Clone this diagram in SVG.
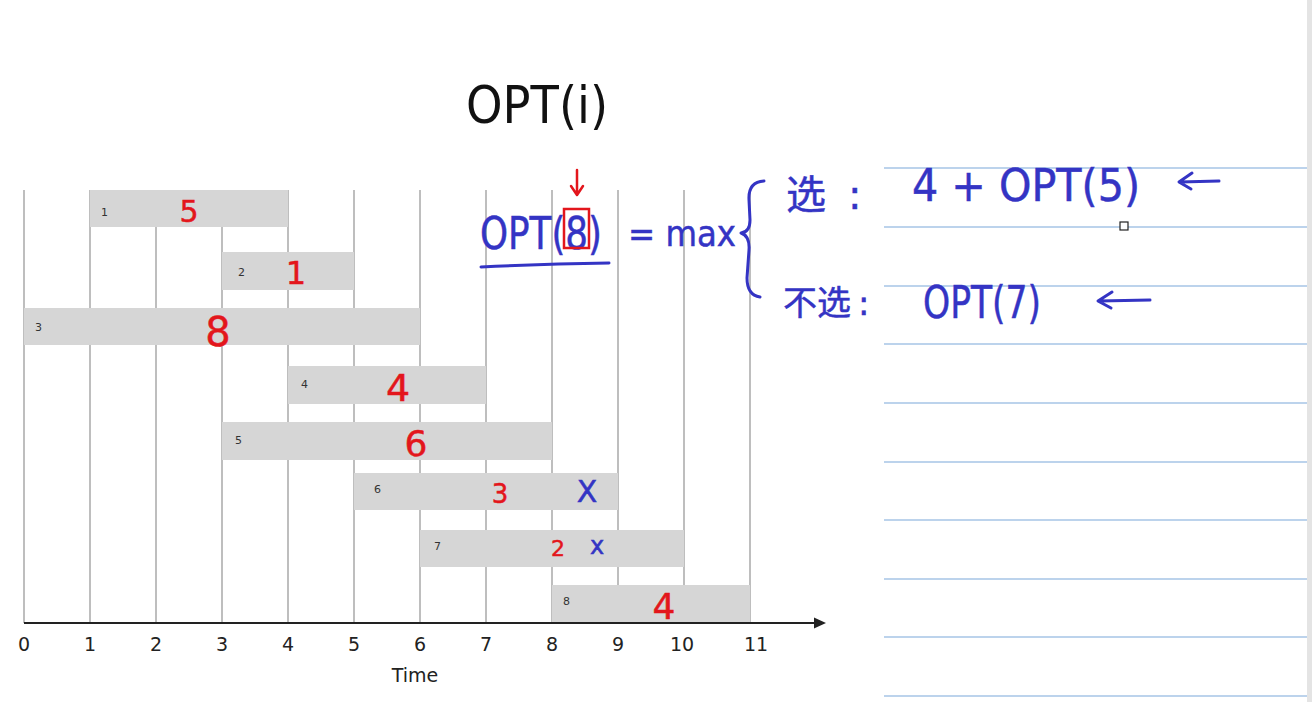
<svg xmlns="http://www.w3.org/2000/svg" width="1312" height="702" viewBox="0 0 1312 702">
<defs>
<style>
.grid{stroke:#a8a8a8;stroke-width:1.5}
.bar{fill:#d6d6d6}
.idx{font-family:"DejaVu Sans",sans-serif;font-size:11px;fill:#333}
.w{font-family:"DejaVu Sans",sans-serif;fill:#e3161c;stroke:#e3161c;stroke-width:0.5}
.blue{font-family:"DejaVu Sans","Noto Sans CJK SC",sans-serif;fill:#3434c4;stroke:#3434c4;stroke-width:0.5}
.pen{fill:none;stroke:#3434c4;stroke-width:3;stroke-linecap:round;stroke-linejoin:round}
.rpen{fill:none;stroke:#e3161c;stroke-width:2.5;stroke-linecap:round;stroke-linejoin:round}
.rule{stroke:#bcd3ec;stroke-width:2}
.ax{font-family:"DejaVu Sans",sans-serif;font-size:19px;fill:#222;text-anchor:middle}
</style>
</defs>
<rect width="1312" height="702" fill="#ffffff"/>
<rect x="1307" y="0" width="5" height="702" fill="#e4e4e4"/>
<g id="ruled">
<line class="rule" x1="884" y1="168" x2="1307" y2="168"/>
<line class="rule" x1="884" y1="227" x2="1307" y2="227"/>
<line class="rule" x1="884" y1="286" x2="1307" y2="286"/>
<line class="rule" x1="884" y1="344" x2="1307" y2="344"/>
<line class="rule" x1="884" y1="403" x2="1307" y2="403"/>
<line class="rule" x1="884" y1="462" x2="1307" y2="462"/>
<line class="rule" x1="884" y1="520" x2="1307" y2="520"/>
<line class="rule" x1="884" y1="579" x2="1307" y2="579"/>
<line class="rule" x1="884" y1="637" x2="1307" y2="637"/>
<line class="rule" x1="884" y1="696" x2="1307" y2="696"/>
</g>
<rect x="1120" y="222" width="8" height="8" fill="#fff" stroke="#222" stroke-width="1.2"/>
<text x="466" y="123" font-family="DejaVu Sans, sans-serif" font-size="52" fill="#111" textLength="142" lengthAdjust="spacingAndGlyphs">OPT(i)</text>
<g id="grid">
<line class="grid" x1="24" y1="190" x2="24" y2="623"/>
<line class="grid" x1="90" y1="190" x2="90" y2="623"/>
<line class="grid" x1="156" y1="190" x2="156" y2="623"/>
<line class="grid" x1="222" y1="190" x2="222" y2="623"/>
<line class="grid" x1="288" y1="190" x2="288" y2="623"/>
<line class="grid" x1="354" y1="190" x2="354" y2="623"/>
<line class="grid" x1="420" y1="190" x2="420" y2="623"/>
<line class="grid" x1="486" y1="190" x2="486" y2="623"/>
<line class="grid" x1="552" y1="190" x2="552" y2="623"/>
<line class="grid" x1="618" y1="190" x2="618" y2="623"/>
<line class="grid" x1="684" y1="190" x2="684" y2="623"/>
<line class="grid" x1="750" y1="190" x2="750" y2="623"/>
</g>
<g id="job1"><rect class="bar" x="90" y="190" width="198" height="37"/><text class="idx" x="101" y="216">1</text><text class="w" x="189" y="222" font-size="30" text-anchor="middle">5</text></g>
<g id="job2"><rect class="bar" x="222" y="252" width="132" height="38"/><text class="idx" x="238" y="276">2</text><text class="w" x="296" y="284" font-size="32" text-anchor="middle">1</text></g>
<g id="job3"><rect class="bar" x="24" y="308" width="396" height="37"/><text class="idx" x="35" y="331">3</text><text class="w" x="218" y="346" font-size="40" text-anchor="middle">8</text></g>
<g id="job4"><rect class="bar" x="288" y="366" width="198" height="38"/><text class="idx" x="301" y="388">4</text><text class="w" x="398" y="401" font-size="38" text-anchor="middle">4</text></g>
<g id="job5"><rect class="bar" x="222" y="422" width="330" height="38"/><text class="idx" x="235" y="444">5</text><text class="w" x="416" y="456" font-size="36" text-anchor="middle">6</text></g>
<g id="job6"><rect class="bar" x="354" y="473" width="264" height="37"/><text class="idx" x="374" y="493">6</text><text class="w" x="500" y="503" font-size="26" text-anchor="middle">3</text><text class="blue" x="587" y="502" font-size="30" text-anchor="middle">X</text></g>
<g id="job7"><rect class="bar" x="420" y="530" width="264" height="37"/><text class="idx" x="434" y="550">7</text><text class="w" x="558" y="556" font-size="22" text-anchor="middle">2</text><text class="blue" x="597" y="554" font-size="24" text-anchor="middle">x</text></g>
<g id="job8"><rect class="bar" x="552" y="585" width="198" height="38"/><text class="idx" x="563" y="605">8</text><text class="w" x="664" y="619" font-size="36" text-anchor="middle">4</text></g>
<g id="connectors">
<line x1="24" y1="623" x2="818" y2="623" stroke="#222" stroke-width="2"/>
<path d="M826 623 L814 617.5 L814 628.5 Z" fill="#222"/>
<path class="rpen" d="M577 170 L577 194 M571 186 L577 195 L583 186"/>
<path class="pen" d="M481 267 Q545 264 609 263"/>
<path class="pen" d="M764 181 Q748 182 749 200 L750 220 Q750 232 741 233 Q750 236 749 250 L747 278 Q747 295 760 297"/>
<path class="pen" d="M1219 181 L1180 182 M1192 173 L1179 182 L1191 189"/>
<path class="pen" d="M1150 300 L1099 301 M1112 292 L1098 301 L1111 308"/>
</g>
<g id="formula">
<text class="blue" x="480" y="249" font-size="44" textLength="122" lengthAdjust="spacingAndGlyphs">OPT(8)</text>
<rect x="564" y="209" width="25" height="39" fill="none" stroke="#e3161c" stroke-width="2.5"/>
<text class="blue" x="628" y="246" font-size="36" textLength="108" lengthAdjust="spacingAndGlyphs">= max</text>
</g>
<g id="choose">
<text class="blue" x="786" y="209" font-size="40">选<tspan x="848">:</tspan></text>
<text class="blue" x="912" y="201" font-size="44" textLength="228" lengthAdjust="spacingAndGlyphs">4 + OPT(5)</text>
</g>
<g id="notchoose">
<text class="blue" x="783" y="315" font-size="34">不选<tspan x="858">:</tspan></text>
<text class="blue" x="923" y="318" font-size="44" textLength="118" lengthAdjust="spacingAndGlyphs">OPT(7)</text>
</g>
<g id="axis">
<text class="ax" x="24" y="651">0</text>
<text class="ax" x="90" y="651">1</text>
<text class="ax" x="156" y="651">2</text>
<text class="ax" x="222" y="651">3</text>
<text class="ax" x="288" y="651">4</text>
<text class="ax" x="354" y="651">5</text>
<text class="ax" x="420" y="651">6</text>
<text class="ax" x="486" y="651">7</text>
<text class="ax" x="552" y="651">8</text>
<text class="ax" x="618" y="651">9</text>
<text class="ax" x="682" y="651">10</text>
<text class="ax" x="756" y="651">11</text>
<text class="ax" x="415" y="682" font-size="21">Time</text>
</g>
</svg>
